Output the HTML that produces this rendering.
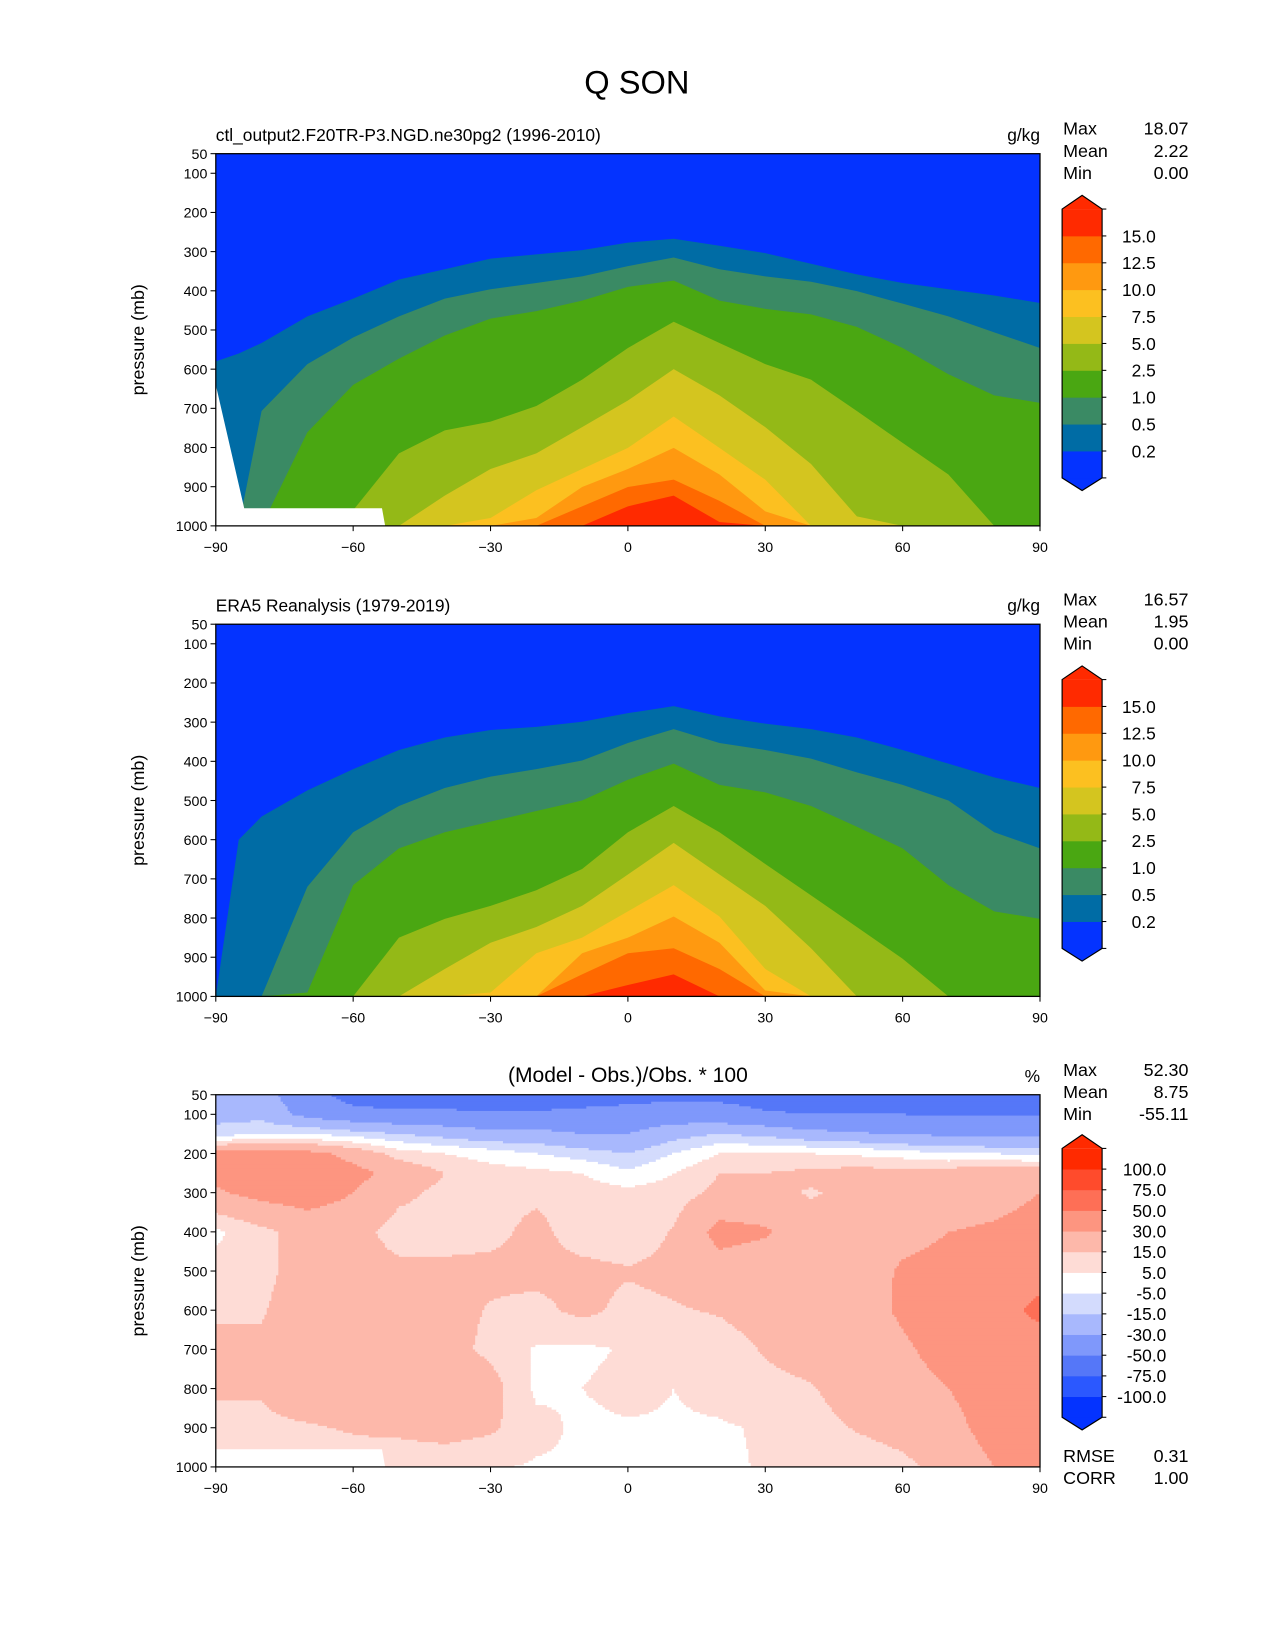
<!DOCTYPE html>
<html><head><meta charset="utf-8"><style>
html,body{margin:0;padding:0;background:#fff}
svg{display:block;font-family:"Liberation Sans","DejaVu Sans",sans-serif}
</style></head><body>
<svg id="fig" width="1275" height="1650" viewBox="0 0 1211.25 1567.5" xmlns="http://www.w3.org/2000/svg">
<rect width="1211.25" height="1567.5" fill="#fff"/>
<text x="605" y="89" font-size="31" text-anchor="middle">Q SON</text>
</svg>
<script>
// ---------- data ----------
const qLevels = [0.2,0.5,1,2.5,5,7.5,10,12.5,15];
const qLevelLabels = ['0.2','0.5','1.0','2.5','5.0','7.5','10.0','12.5','15.0'];
const qColors = ['#0433ff','#006ca5','#3a8a64','#4aa712','#94b917','#d4c51f','#fcc020','#ff9910','#ff6900','#ff2a00'];
const qLats = [-90,-85,-80,-70,-60,-50,-40,-30,-20,-10,0,10,20,30,40,50,60,70,80,90];
// pressure (mb) where field crosses each level (model)
const modelB02 = [580,560,533,465,420,371,345,318,307,296,277,267,285,304,331,358,380,396,412,431];
const modelB05 = [1000,1000,707,587,519,465,420,396,380,363,337,315,345,363,377,401,433,465,506,546];
const modelB1  = [1000,1000,1000,761,640,573,514,471,452,425,390,374,425,446,460,492,546,613,667,686];
const modelB25 = [1000,1000,1000,1000,960,815,756,734,694,627,546,479,533,587,627,707,788,869,1000,1000];
const modelB5  = [1000,1000,1000,1000,1000,1000,923,855,815,748,680,600,667,748,842,976,1000,1000,1000,1000];
const modelB75 = [1000,1000,1000,1000,1000,1000,1000,980,909,855,801,721,801,882,1000,1000,1000,1000,1000,1000];
const modelB10 = [1000,1000,1000,1000,1000,1000,1000,1000,980,901,855,801,869,963,1000,1000,1000,1000,1000,1000];
const modelB125= [1000,1000,1000,1000,1000,1000,1000,1000,1000,950,901,882,936,1000,1000,1000,1000,1000,1000,1000];
const modelB15 = [1000,1000,1000,1000,1000,1000,1000,1000,1000,1000,950,923,990,1000,1000,1000,1000,1000,1000,1000];
// obs
const obsB02 = [1000,600,541,474,420,371,339,320,312,299,277,259,285,304,318,339,371,406,441,468];
const obsB05 = [1000,1000,1000,720,581,514,468,439,420,398,353,318,353,371,393,428,460,500,581,622];
const obsB1  = [1000,1000,1000,990,716,622,581,554,527,500,447,406,460,479,514,567,622,716,783,802];
const obsB25 = [1000,1000,1000,1000,1000,850,802,769,729,675,581,514,581,662,742,823,904,1000,1000,1000];
const obsB5  = [1000,1000,1000,1000,1000,1000,930,863,823,769,689,608,689,769,877,1000,1000,1000,1000,1000];
const obsB75 = [1000,1000,1000,1000,1000,1000,1000,990,890,850,783,716,796,930,1000,1000,1000,1000,1000,1000];
const obsB10 = [1000,1000,1000,1000,1000,1000,1000,1000,1000,890,850,796,863,985,1000,1000,1000,1000,1000,1000];
const obsB125= [1000,1000,1000,1000,1000,1000,1000,1000,1000,944,890,877,930,1000,1000,1000,1000,1000,1000,1000];
const obsB15 = [1000,1000,1000,1000,1000,1000,1000,1000,1000,1000,971,944,1000,1000,1000,1000,1000,1000,1000,1000];
// surface mask
const maskLats1 = [-90,-83.8,-53.7,-53];
const maskP1 = [640,955,955,1000];
const maskLats3 = [-90,-53.7,-53];
const maskP3 = [955,955,1000];
// difference field (%)
const dLevels = [-100,-75,-50,-30,-15,-5,5,15,30,50,75,100];
const dLevelLabels = ['-100.0','-75.0','-50.0','-30.0','-15.0','-5.0','5.0','15.0','30.0','50.0','75.0','100.0'];
const dColors = ['#0433ff','#2b58ff','#5577f8','#7f98fb','#a8b8fd','#d3dbfd','#ffffff','#fedcd6','#fdb8aa','#fd9580','#fe6f56','#ff4b2c','#ff2a00'];
const dLats = [-90,-80,-70,-60,-50,-40,-30,-20,-10,0,10,20,30,40,50,60,70,80,90];
const dPres = [50,100,150,200,250,300,400,500,600,700,800,900,1000];
const dRow50  = [-20,-25,-40,-60,-65,-65,-62,-60,-60,-58,-55,-55,-58,-60,-62,-62,-65,-65,-65];
const dRow100 = [-20,-20,-35,-42,-45,-45,-48,-48,-45,-42,-40,-42,-48,-50,-50,-50,-52,-52,-52];
const dRow150 = [-10,-5,-5,-10,-15,-20,-25,-25,-30,-30,-20,-15,-18,-25,-28,-32,-32,-35,-35];
const dRow200 = [35,35,35,25,10,5,0,-5,-10,-15,-5,5,5,5,3,0,-5,-5,-8];
const dRow250 = [35,40,40,35,25,15,10,8,5,-3,5,15,15,18,20,20,22,25,25];
const dRow300 = [28,35,38,30,18,12,12,13,10,8,10,18,18,14,18,20,22,25,30];
const dRow400 = [3,12,20,20,10,10,12,18,10,8,16,35,32,20,22,25,30,32,35];
const dRow500 = [8,12,20,20,18,18,18,18,18,16,18,24,20,20,22,32,35,38,42];
const dRow600 = [12,14,22,20,20,20,14,12,18,12,14,16,20,20,24,32,38,42,55];
const dRow700 = [20,17,25,20,22,20,12,4,3,6,8,10,16,20,22,28,35,38,40];
const dRow800 = [18,16,22,22,22,30,20,3,5,8,5,8,12,14,22,25,30,38,40];
const dRow900 = [8,13,14,16,18,20,17,8,3,4,4,4,6,10,16,20,25,36,40];
const dRow1000= [8,8,8,10,7,8,6,4,4,4,5,3,6,8,8,12,20,30,30];
const dField = [dRow50,dRow100,dRow150,dRow200,dRow250,dRow300,dRow400,dRow500,dRow600,dRow700,dRow800,dRow900,dRow1000];
const xTicks = [-90,-60,-30,0,30,60,90];
const yTicks = [50,100,200,300,400,500,600,700,800,900,1000];

// ---------- helpers ----------
const NS='http://www.w3.org/2000/svg';
const fig=document.getElementById('fig');
function el(tag,attrs,parent){const e=document.createElementNS(NS,tag);for(const k in attrs)e.setAttribute(k,attrs[k]);(parent||fig).appendChild(e);return e;}
const X0=205,X1=988;
function xs(lat){return X0+(lat+90)/180*(X1-X0);}
function ysF(top){return p=>top+18.6+(p-100)*0.3722;}

function axesFrame(top,name,ttlL,ttlC,unit,stats){
  const y=ysF(top), g=el('g',{});
  
  
  el('rect',{x:X0,y:top,width:X1-X0,height:y(1000)-top,fill:'none',stroke:'#000','stroke-width':1.2},g);
  yTicks.forEach(p=>{
    el('line',{x1:X0-5,x2:X0,y1:y(p),y2:y(p),stroke:'#000','stroke-width':1},g);
    const t=el('text',{x:X0-8,y:y(p)+5,'font-size':13.5,'text-anchor':'end'},g);t.textContent=p;
    
    
  });
  xTicks.forEach(v=>{
    el('line',{x1:xs(v),x2:xs(v),y1:y(1000),y2:y(1000)+5,stroke:'#000','stroke-width':1},g);
    const t=el('text',{x:xs(v),y:y(1000)+25,'font-size':13.5,'text-anchor':'middle'},g);t.textContent=String(v).replace('-','\u2212');
    
    
  });
  const yl=el('text',{x:0,y:0,'font-size':17,'text-anchor':'middle',transform:`translate(137,${(top+y(1000))/2}) rotate(-90)`},g);yl.textContent='pressure (mb)';
  
  
  if(ttlL){const t=el('text',{x:X0,y:top-12,'font-size':16.5},g);t.textContent=ttlL;
    
    }
  if(ttlC){const t=el('text',{x:(X0+X1)/2,y:top-12,'font-size':20,'text-anchor':'middle'},g);t.textContent=ttlC;
    
    }
  const u=el('text',{x:X1,y:top-12,'font-size':16.5,'text-anchor':'end'},g);u.textContent=unit;
  
  
  stats.forEach((s,i)=>{
    const a=el('text',{x:1010,y:top-18+i*21,'font-size':17},g);a.textContent=s[0];
    
    
    const b=el('text',{x:1129,y:top-18+i*21,'font-size':17,'text-anchor':'end'},g);b.textContent=s[1];
    
    
  });
}

function clip(id,top){const c=el('clipPath',{id:id});el('rect',{x:X0,y:top,width:X1-X0,height:353.6},c);}

function filledPanel(top,bounds,name){
  const y=ysF(top);clip('c'+name,top);
  const g=el('g',{'clip-path':`url(#c${name})`});
  
  
  const bg=el('rect',{x:X0,y:top,width:X1-X0,height:y(1000)-top,fill:qColors[0]},g);
  
  
  bounds.forEach((b,k)=>{
    let pts=qLats.map((lat,i)=>xs(lat).toFixed(1)+','+y(b[i]).toFixed(1));
    pts.push(xs(90)+','+(y(1000)+2),xs(-90)+','+(y(1000)+2));
    const pg=el('polygon',{points:pts.join(' '),fill:qColors[k+1]},g);
    
    
  });
  return g;
}
function mask(g,top,lats,ps){
  const y=ysF(top);
  const pts=lats.map((l,i)=>xs(l).toFixed(1)+','+y(ps[i]).toFixed(1));
  pts.push(xs(-90)+','+y(1000));
  const m=el('polygon',{points:pts.join(' '),fill:'#fff'},g);
  
  
}

function colorbar(top,levels,labels,colors,name){
  const g=el('g',{});
  
  
  const n=colors.length, bTop=top, bBot=top+255.4;
  const h=(bBot-bTop)/n, xl=1009, xr=1047, xm=(xl+xr)/2;
  el('polygon',{points:`${xl},${bTop} ${xm},${bTop-13} ${xr},${bTop}`,fill:colors[n-1]},g);
  el('polygon',{points:`${xl},${bBot} ${xm},${bBot+12} ${xr},${bBot}`,fill:colors[0]},g);
  colors.forEach((c,i)=>{
    const r=el('rect',{x:xl,y:bBot-(i+1)*h,width:xr-xl,height:h+0.4,fill:c},g);
    
    
  });
  el('polygon',{points:`${xl},${bTop} ${xm},${bTop-13} ${xr},${bTop} ${xr},${bBot} ${xm},${bBot+12} ${xl},${bBot}`,fill:'none',stroke:'#000','stroke-width':1.1},g);
  levels.forEach((v,i)=>{
    const yy=bBot-(i+1)*h;
    el('line',{x1:xr,x2:xr+4,y1:yy,y2:yy,stroke:'#000'},g);
    const t=el('text',{x:name==='diff-colorbar'?1108:1098,y:yy+6,'font-size':16.5,'text-anchor':'end'},g);t.textContent=labels[i];
    
    
  });
  el('line',{x1:xr,x2:xr+4,y1:bTop,y2:bTop,stroke:'#000'},g);
  el('line',{x1:xr,x2:xr+4,y1:bBot,y2:bBot,stroke:'#000'},g);
}

// ---------- panel 1 ----------
const T1=146,T2=593,T3=1040;
const g1=filledPanel(T1,[modelB02,modelB05,modelB1,modelB25,modelB5,modelB75,modelB10,modelB125,modelB15],'model');
mask(g1,T1,maskLats1,maskP1);
axesFrame(T1,'model','ctl_output2.F20TR-P3.NGD.ne30pg2 (1996-2010)',null,'g/kg',[['Max','18.07'],['Mean','2.22'],['Min','0.00']]);
colorbar(198.6,qLevels,qLevelLabels,qColors,'model-colorbar');

// ---------- panel 2 ----------
filledPanel(T2,[obsB02,obsB05,obsB1,obsB25,obsB5,obsB75,obsB10,obsB125,obsB15],'obs');
axesFrame(T2,'obs','ERA5 Reanalysis (1979-2019)',null,'g/kg',[['Max','16.57'],['Mean','1.95'],['Min','0.00']]);
colorbar(645.6,qLevels,qLevelLabels,qColors,'obs-colorbar');

// ---------- panel 3 ----------
(function(){
  const y=ysF(T3);clip('cdiff',T3);
  const g=el('g',{'clip-path':'url(#cdiff)'});
  
  
  function val(lat,p){
    let i=0;while(i<dLats.length-2&&lat>dLats[i+1])i++;
    let j=0;while(j<dPres.length-2&&p>dPres[j+1])j++;
    const fx=Math.min(1,Math.max(0,(lat-dLats[i])/(dLats[i+1]-dLats[i])));
    const fy=Math.min(1,Math.max(0,(p-dPres[j])/(dPres[j+1]-dPres[j])));
    const a=dField[j][i],b=dField[j][i+1],c=dField[j+1][i],d=dField[j+1][i+1];
    return (a*(1-fx)+b*fx)*(1-fy)+(c*(1-fx)+d*fx)*fy;
  }
  function cidx(v){let k=0;while(k<dLevels.length&&v>=dLevels[k])k++;return k;}
  const dx=2.2, dy=2.2;
  for(let py=T3;py<y(1000);py+=dy){
    const p=100+(py+dy/2-T3-18.6)/0.3722;
    let runStart=X0,runC=-1;
    for(let px=X0;px<=X1+dx;px+=dx){
      const lat=-90+(px+dx/2-X0)/(X1-X0)*180;
      const c=px>X1?-2:cidx(val(Math.min(90,lat),Math.min(1000,p)));
      if(c!==runC){
        if(runC>=0){
          const r=el('rect',{x:runStart.toFixed(1),y:py.toFixed(1),width:(px-runStart+0.5).toFixed(1),height:dy+0.5,fill:dColors[runC]},g);
          
          
        }
        runStart=px;runC=c;
      }
    }
  }
  mask(g,T3,maskLats3,maskP3);
})();
axesFrame(T3,'diff',null,'(Model - Obs.)/Obs. * 100','%',[['Max','52.30'],['Mean','8.75'],['Min','-55.11']]);
colorbar(1091,dLevels,dLevelLabels,dColors,'diff-colorbar');
[['RMSE','0.31',1389],['CORR','1.00',1410]].forEach(s=>{
  const a=el('text',{x:1010,y:s[2],'font-size':17});a.textContent=s[0];
  
  
  const b=el('text',{x:1129,y:s[2],'font-size':17,'text-anchor':'end'});b.textContent=s[1];
  
  
});
</script>
</body></html>
